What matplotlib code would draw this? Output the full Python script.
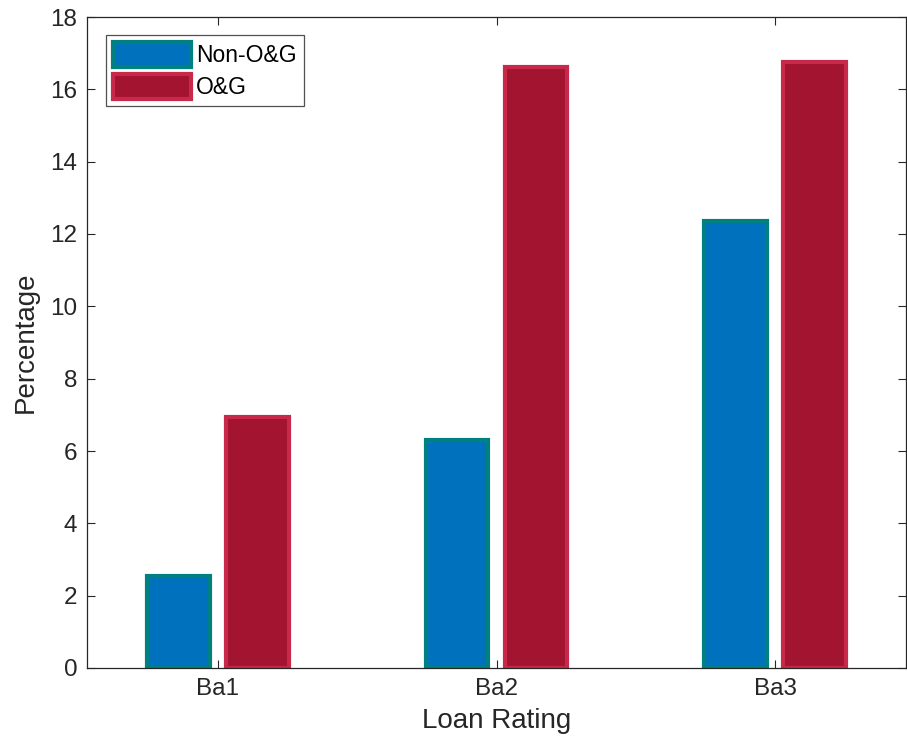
import matplotlib
matplotlib.use("Agg")
import matplotlib.pyplot as plt
import numpy as np

plt.rcParams["font.family"] = ["Liberation Sans", "DejaVu Sans"]

ratings = ["Ba1", "Ba2", "Ba3"]
non_og = [2.54, 6.30, 12.36]
og = [6.94, 16.62, 16.75]
yticks = [0, 2, 4, 6, 8, 10, 12, 14, 16, 18]

W, H = 907, 751
fig = plt.figure(figsize=(W / 100, H / 100), dpi=100)
ax = fig.add_axes([87 / W, (H - 668) / H, (906 - 87) / W, (668 - 17) / H])

x = np.arange(1, len(ratings) + 1)
off, bw = 0.142, 0.225
ax.bar(x - off, non_og, bw, color="#0072BD", edgecolor="#008080", linewidth=3, label="Non-O&G")
ax.bar(x + off, og, bw, color="#A2142F", edgecolor="#C8284A", linewidth=3, label="O&G")

ax.set_xlim(0.53, 3.47)
ax.set_ylim(0, 18)
ax.set_xticks(x)
ax.set_xticklabels(ratings)
ax.set_yticks(yticks)
ax.tick_params(direction="in", top=True, right=True, labelsize=17.5, colors="#262626",
               length=6, pad=7)
for s in ax.spines.values():
    s.set_color("#262626")
    s.set_linewidth(0.9)
ax.set_xlabel("Loan Rating", fontsize=20, color="#262626", labelpad=6)
ax.set_ylabel("Percentage", fontsize=20, color="#262626", labelpad=8)

leg = ax.legend(loc="upper left", bbox_to_anchor=(0.023, 0.972), fontsize=16.5, fancybox=False,
                edgecolor="#262626", handlelength=3.4, handleheight=1.3, borderpad=0.3,
                labelspacing=0.3, handletextpad=0.25, borderaxespad=0)
leg.get_frame().set_linewidth(0.9)

fig.savefig("out.png", dpi=100)
